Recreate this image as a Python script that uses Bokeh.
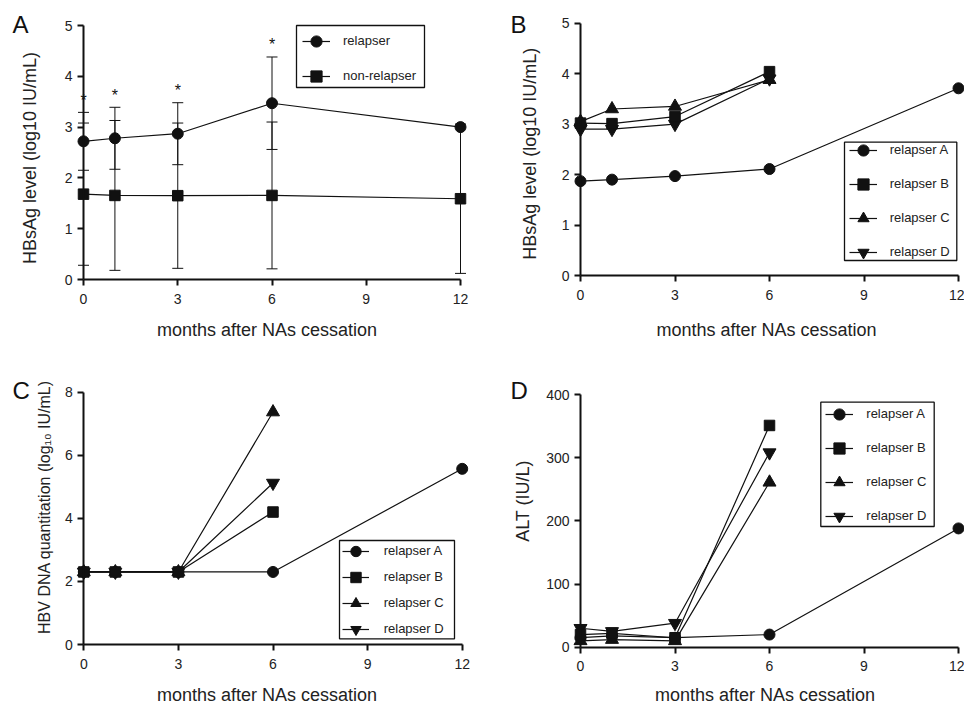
import math
from bokeh.plotting import figure
from bokeh.models import (Range1d, FixedTicker, Whisker, TeeHead, ColumnDataSource,
                          Legend, LegendItem, Label, BoxAnnotation)
from bokeh.layouts import column, row
from bokeh.embed import file_html
from bokeh.resources import INLINE
from bokeh.core.properties import value

FONT = "Liberation Sans"
INK = "#111111"

# ---------------- data ----------------
months = [0, 1, 3, 6, 12]
months_to6 = [0, 1, 3, 6]
x_ticks = [0, 3, 6, 9, 12]
x_title = "months after NAs cessation"

# Panel A: HBsAg (mean +/- SD)
relapser_mean = [2.72, 2.78, 2.87, 3.47, 3.00]
relapser_sd = [0.57, 0.61, 0.61, 0.91]          # months 0-6
nonrelapser_mean = [1.68, 1.655, 1.65, 1.655, 1.59]
nonrelapser_sd = [1.40, 1.475, 1.43, 1.445, 1.47]
significant_months = [0, 1, 3, 6]
a_yticks = [0, 1, 2, 3, 4, 5]

# Panel B: HBsAg per relapser
hbsag_A = [1.87, 1.90, 1.97, 2.11, 3.71]
hbsag_B = [3.02, 3.01, 3.15, 4.04]
hbsag_C = [3.05, 3.30, 3.35, 3.88]
hbsag_D = [2.90, 2.90, 3.00, 3.90]
b_yticks = [0, 1, 2, 3, 4, 5]

# Panel C: HBV DNA
dna_A = [2.3, 2.3, 2.3, 2.3, 5.57]
dna_B = [2.3, 2.3, 2.3, 4.20]
dna_C = [2.3, 2.3, 2.3, 7.37]
dna_D = [2.3, 2.3, 2.3, 5.12]
c_yticks = [0, 2, 4, 6, 8]

# Panel D: ALT
alt_A = [15, 18, 15, 20, 188]
alt_B = [20, 22, 15, 351]
alt_C = [10, 12, 10, 261]
alt_D = [30, 25, 38, 308]
d_yticks = [0, 100, 200, 300, 400]

relapser_names = ["relapser A", "relapser B", "relapser C", "relapser D"]

W, H = 482, 353
BASE_FIX = 8   # rendered alphabetic baseline sits lower than requested


class Panel:
    """The frame fills the whole figure; axes are pinned at x=0 / y=0."""

    def __init__(self, x0, x12, ybot, ytop, ymax, yticks):
        self.x0, self.x12, self.ybot, self.ytop = x0, x12, ybot, ytop
        self.sx = (x12 - x0) / 12.0
        self.sy = (ybot - ytop) / ymax
        p = figure(width=W, height=H, output_backend="svg", toolbar_location=None,
                   x_range=Range1d(-x0 / self.sx, 12 + (W - x12) / self.sx),
                   y_range=Range1d(-(H - ybot) / self.sy, ymax + ytop / self.sy),
                   min_border_left=0, min_border_right=0,
                   min_border_top=0, min_border_bottom=0,
                   background_fill_color="white", border_fill_color="white")
        p.outline_line_color = None
        p.xgrid.visible = False
        p.ygrid.visible = False
        p.xaxis.fixed_location = 0
        p.yaxis.fixed_location = 0
        p.xaxis.bounds = (0, 12)
        p.yaxis.bounds = (0, ymax)
        p.xaxis.ticker = FixedTicker(ticks=x_ticks)
        p.yaxis.ticker = FixedTicker(ticks=yticks)
        for ax in (p.xaxis[0], p.yaxis[0]):
            ax.axis_line_width = 2
            ax.axis_line_color = INK
            ax.major_tick_line_width = 2
            ax.major_tick_line_color = INK
            ax.major_tick_out = 6
            ax.major_tick_in = 0
            ax.minor_tick_line_color = None
            ax.major_label_text_font = FONT
            ax.major_label_text_font_size = "14px"
            ax.major_label_text_color = "#222222"
        p.xaxis.major_label_standoff = 8
        p.yaxis.major_label_standoff = 5
        self.p = p

    def X(self, px):
        return (px - self.x0) / self.sx

    def Y(self, py):
        return (self.ybot - py) / self.sy

    def letter(self, text, left, base):
        self.p.add_layout(Label(x=self.X(left), y=self.Y(base - BASE_FIX), text=text,
                                text_font=FONT, text_font_size="24px", text_color=INK,
                                text_align="left", text_baseline="alphabetic"))

    def xlabel(self, cx, base):
        self.p.add_layout(Label(x=self.X(cx), y=self.Y(base - BASE_FIX), text=x_title,
                                text_font=FONT, text_font_size="18px", text_color="#222222",
                                text_align="center", text_baseline="alphabetic"))

    def ylabel(self, text, cx, cy, size="18px"):
        self.p.add_layout(Label(x=self.X(cx), y=self.Y(cy), text=text, angle=math.pi / 2,
                                text_font=FONT, text_font_size=size, text_color="#222222",
                                text_align="center", text_baseline="middle"))

    def series(self, xs, ys, marker, size):
        src = ColumnDataSource(dict(x=xs, y=ys))
        ln = self.p.line("x", "y", source=src, line_color=INK, line_width=1.2)
        sc = self.p.scatter("x", "y", source=src, marker=marker, size=size,
                            fill_color=INK, line_color=INK)
        return [ln, sc]

    def legend(self, entries, box, gx, gw, tx, first_c, h, s, font_size="13px"):
        n = len(entries)
        leg_top = box[1] + first_c - h / 2.0
        leg_h = n * h + (n - 1) * s
        loc = (box[0] + gx, H - (leg_top + leg_h))
        self.p.add_layout(BoxAnnotation(left=self.X(box[0]), right=self.X(box[2]),
                                        top=self.Y(box[1]), bottom=self.Y(box[3]),
                                        fill_color="white", fill_alpha=1.0,
                                        line_color=INK, line_alpha=1.0, line_width=1.3))
        items = [LegendItem(label=lab, renderers=rs) for lab, rs in entries]
        leg = Legend(items=items, location=loc, orientation="vertical",
                     padding=0, spacing=s, margin=0,
                     glyph_width=gw, glyph_height=h, label_height=h,
                     label_standoff=int(round(tx - gx - gw)),
                     label_text_font=FONT, label_text_font_size=font_size,
                     label_text_color="#222222", label_text_baseline="middle",
                     border_line_color=None, background_fill_alpha=0.0)
        self.p.add_layout(leg)


# ---------------- Panel A ----------------
A = Panel(83, 460, 279, 25, 5, a_yticks)
pa = A.p
rel_upper = [m + s for m, s in zip(relapser_mean, relapser_sd)]
rel_lower = [m - s for m, s in zip(relapser_mean, relapser_sd)]
non_upper = [m + s for m, s in zip(nonrelapser_mean, nonrelapser_sd)]
non_lower = [m - s for m, s in zip(nonrelapser_mean, nonrelapser_sd)]
for xs, up, lo in ((months_to6, rel_upper, rel_lower), (months, non_upper, non_lower)):
    wsrc = ColumnDataSource(dict(x=xs, upper=up, lower=lo))
    pa.add_layout(Whisker(source=wsrc, base="x", upper="upper", lower="lower",
                          line_color=INK, line_width=1,
                          upper_head=TeeHead(size=11, line_color=INK, line_width=1),
                          lower_head=TeeHead(size=11, line_color=INK, line_width=1)))
r_rel = A.series(months, relapser_mean, "circle", 11)
r_non = A.series(months, nonrelapser_mean, "square", 10.5)
star_src = ColumnDataSource(dict(x=significant_months,
                                 y=[rel_upper[months_to6.index(m)] for m in significant_months]))
pa.text("x", "y", source=star_src, text=value("*"), text_font=value(FONT),
        text_font_size="16px", text_color=INK, text_align="center",
        text_baseline="alphabetic", y_offset=-12)
A.legend([("relapser", r_rel), ("non-relapser", r_non)],
         (296, 25, 424, 87), gx=6, gw=28, tx=47, first_c=15.7, h=28, s=7)
A.letter("A", 12, 32)
A.xlabel(266.5, 337)
A.ylabel("HBsAg level (log10 IU/mL)", 29.5, 157.5)

# ---------------- Panel B ----------------
Bp = Panel(98, 476, 275, 22.7, 5, b_yticks)
rb_A = Bp.series(months, hbsag_A, "circle", 11)
rb_C = Bp.series(months_to6, hbsag_C, "triangle", 13)
rb_D = Bp.series(months_to6, hbsag_D, "inverted_triangle", 13)
rb_B = Bp.series(months_to6, hbsag_B, "square", 10.5)
Bp.legend(list(zip(relapser_names, [rb_A, rb_B, rb_C, rb_D])),
          (362, 141.7, 474.3, 260), gx=4.7, gw=28, tx=45.3, first_c=8, h=28, s=6)
Bp.letter("B", 28, 32)
Bp.xlabel(284, 337)
Bp.ylabel("HBsAg level (log10 IU/mL)", 47, 153.3)

# ---------------- Panel C ----------------
Cp = Panel(83.3, 461.7, 291, 38.7, 8, c_yticks)
rc_A = Cp.series(months, dna_A, "circle", 11)
rc_C = Cp.series(months_to6, dna_C, "triangle", 13)
rc_D = Cp.series(months_to6, dna_D, "inverted_triangle", 13)
rc_B = Cp.series(months_to6, dna_B, "square", 10.5)
Cp.legend(list(zip(relapser_names, [rc_A, rc_B, rc_C, rc_D])),
          (339, 187, 454, 285.3), gx=2.7, gw=27, tx=44.3, first_c=10.5, h=26, s=0)
Cp.letter("C", 12, 45)
Cp.xlabel(266.5, 349)
Cp.ylabel("HBV DNA quantitation (log\u2081\u2080 IU/mL)", 44, 153.5, size="16px")

# ---------------- Panel D ----------------
Dp = Panel(98, 476, 293.7, 41, 400, d_yticks)
rd_A = Dp.series(months, alt_A, "circle", 11)
rd_C = Dp.series(months_to6, alt_C, "triangle", 13)
rd_D = Dp.series(months_to6, alt_D, "inverted_triangle", 13)
rd_B = Dp.series(months_to6, alt_B, "square", 10.5)
Dp.legend(list(zip(relapser_names, [rd_A, rd_B, rd_C, rd_D])),
          (338.3, 48.7, 451.7, 173), gx=5, gw=28, tx=46, first_c=12, h=28, s=6)
Dp.letter("D", 28, 45)
Dp.xlabel(282.5, 349)
Dp.ylabel("ALT (IU/L)", 40.5, 147.5)

layout = column(row(A.p, Bp.p), row(Cp.p, Dp.p))
open("out.html", "w").write(file_html(layout, INLINE))
